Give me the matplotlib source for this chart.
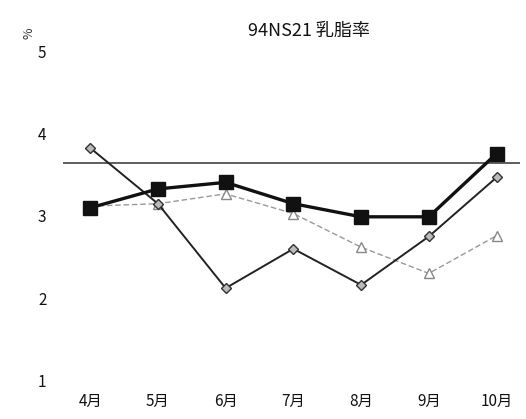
import matplotlib
matplotlib.use('Agg')
import matplotlib.pyplot as plt

plt.rcParams['font.family'] = ['Noto Sans CJK JP', 'DejaVu Sans']

# data
months = ['4月', '5月', '6月', '7月', '8月', '9月', '10月']
herd_avg = [3.10, 3.33, 3.41, 3.15, 2.99, 2.99, 3.76]      # squares, thick
cow_a = [3.83, 3.15, 2.12, 2.60, 2.16, 2.75, 3.47]         # diamonds
cow_b = [3.12, 3.15, 3.27, 3.03, 2.62, 2.30, 2.76]         # triangles, dashed
target = 3.65

fig = plt.figure(figsize=(5.26, 4.19), dpi=100)
ax = fig.add_axes([0.12, 0.093, 0.869, 0.783])

x = list(range(len(months)))

ax.axhline(target, color='#333333', lw=1.1, zorder=1)

ax.plot(x, cow_b, color='#999999', lw=1.0, linestyle=(0, (4, 2)),
        marker='^', ms=7, mfc='white', mec='#888888', mew=1.0, zorder=2)
ax.plot(x, cow_a, color='#222222', lw=1.4,
        marker='D', ms=5.5, mfc='#bbbbbb', mec='#333333', mew=1.0, zorder=3)
ax.plot(x, herd_avg, color='#111111', lw=2.4,
        marker='s', ms=10, mfc='#111111', mec='#111111', zorder=4)

ax.set_xlim(-0.4, 6.35)
ax.set_ylim(1, 5)
ax.set_yticks([1, 2, 3, 4, 5])
ax.set_xticks(x)
ax.set_xticklabels(months)

for s in ax.spines.values():
    s.set_visible(False)
ax.tick_params(axis='both', length=0, labelsize=11, colors='#111111')
ax.tick_params(axis='x', pad=9)
ax.tick_params(axis='y', pad=12)

fig.text(0.055, 0.92, '%', rotation=90, fontsize=9, ha='center', va='center',
         color='#333333')
fig.text(0.587, 0.925, '94NS21 乳脂率', fontsize=13, ha='center', va='center',
         color='#111111')

fig.savefig('out.png', dpi=100, facecolor='white')
